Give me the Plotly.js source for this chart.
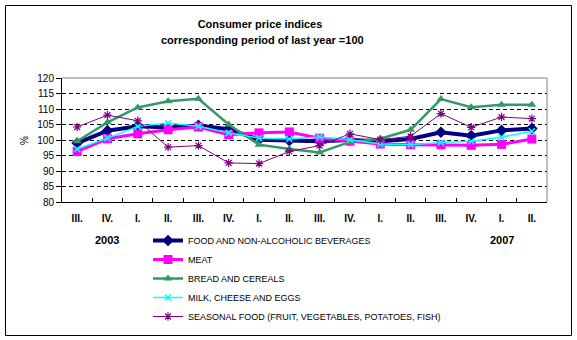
<!DOCTYPE html>
<html>
<head>
<meta charset="utf-8">
<script src="https://cdn.plot.ly/plotly-3.0.1.min.js"></script>
<style>
html,body{margin:0;padding:0;background:#fff;}
#chart{width:577px;height:340px;}
</style>
</head>
<body>
<div id="chart"></div>
<script>
const quarters = ['III.','IV.','I.','II.','III.','IV.','I.','II.','III.','IV.','I.','II.','III.','IV.','I.','II.'];
const yearLabels = ['2003','2007'];
const yearLabelIndex = [1, 14];

const seriesNames = [
  'FOOD AND NON-ALCOHOLIC BEVERAGES',
  'MEAT',
  'BREAD AND CEREALS',
  'MILK, CHEESE AND EGGS',
  'SEASONAL FOOD (FRUIT, VEGETABLES, POTATOES, FISH)'
];
const food     = [99.0, 103.0, 104.4, 104.0, 104.7, 103.5, 100.1, 99.8, 99.6, 100.0, 99.6, 100.3, 102.5, 101.4, 103.1, 103.7];
const meat     = [96.3, 100.4, 102.0, 103.3, 104.2, 101.7, 102.3, 102.6, 100.6, 99.6, 98.7, 98.5, 98.5, 98.3, 98.6, 100.3];
const bread    = [99.6, 105.7, 110.5, 112.5, 113.3, 105.0, 98.5, 97.1, 96.0, 99.4, 100.4, 103.3, 113.2, 110.6, 111.4, 111.4];
const milk     = [97.1, 100.6, 104.4, 105.5, 104.4, 102.3, 100.6, 100.3, 101.0, 100.1, 98.7, 98.5, 99.2, 99.6, 100.9, 102.8];
const seasonal = [104.2, 108.0, 106.2, 97.7, 98.2, 92.6, 92.4, 96.3, 98.2, 102.0, 100.1, 101.2, 108.5, 104.1, 107.4, 106.9];

const xs = quarters.map((_, i) => i);
const bounds = quarters.slice(1).map((_, i) => i + 0.5);

const styles = [
  {color:'#000080', lw:4,   sym:'diamond',        size:9, mlw:0},
  {color:'#FF00FF', lw:3,   sym:'square',         size:9, mlw:0},
  {color:'#339966', lw:2.5, sym:'triangle-up',    size:8, mlw:0},
  {color:'#00FFFF', lw:1.5, sym:'x-thin-open',    size:6, mlw:1.5},
  {color:'#800080', lw:1,   sym:'asterisk-open',  size:7, mlw:1.2}
];
const values = [food, meat, bread, milk, seasonal];

const traces = values.map((v, k) => ({
  type:'scatter', mode:'lines+markers', x: xs, y: v, name: seriesNames[k],
  line:{color:styles[k].color, width:styles[k].lw},
  marker:{symbol:styles[k].sym, size:styles[k].size, color:styles[k].color,
          line:{color:styles[k].color, width:styles[k].mlw}},
  hoverinfo:'skip'
}));

const F = 'Liberation Sans, Arial, sans-serif';
const L = 62, R = 547, T = 78, B = 202;
const px = v => (v - L) / (R - L);
const py = v => (B - v) / (B - T);

const layout = {
  width:577, height:340,
  margin:{l:L, r:577-R, t:T, b:340-B, pad:0, autoexpand:false},
  paper_bgcolor:'#fff', plot_bgcolor:'#fff',
  showlegend:true,
  title:{text:'<b>Consumer price indices</b>', font:{family:F, size:11, color:'#000'},
         xref:'container', x:260/577, xanchor:'center',
         yref:'container', y:1-24/340, yanchor:'middle', automargin:false},
  xaxis:{range:[-0.5, quarters.length-0.5], tickmode:'array', tickvals:xs, ticktext:quarters,
         ticks:'', showgrid:false, zeroline:false, showline:true, linecolor:'#000', linewidth:1,
         tickfont:{family:F, size:10, color:'#000', weight:'bold'}, ticklabelstandoff:7,
         minor:{tickmode:'array', tickvals:bounds, ticks:'inside', ticklen:4, tickcolor:'#000', showgrid:false},
         fixedrange:true, automargin:false},
  yaxis:{range:[80,120], tickmode:'linear', tick0:80, dtick:5, ticks:'outside', ticklen:5, tickcolor:'#000',
         showline:true, linecolor:'#000', linewidth:1, zeroline:false,
         showgrid:true, gridcolor:'#000', gridwidth:1, griddash:'4px,3px',
         tickfont:{family:F, size:10, color:'#000'}, fixedrange:true, automargin:false},
  legend:{xref:'container', yref:'container', x:148/577, y:1-226/340, xanchor:'left', yanchor:'top',
          font:{family:F, size:9, color:'#000'}, bgcolor:'rgba(0,0,0,0)', borderwidth:0,
          itemwidth:30, traceorder:'normal', itemclick:false, itemdoubleclick:false},
  annotations:[
    {text:'<b>corresponding period of last year =100</b>', xref:'paper', yref:'paper',
     x:px(262), y:py(40), xanchor:'center', yanchor:'middle', showarrow:false,
     font:{family:F, size:11, color:'#000'}},
    {text:'%', xref:'paper', yref:'paper', x:px(24), y:py(141), textangle:-90,
     xanchor:'center', yanchor:'middle', showarrow:false, font:{family:F, size:10, color:'#000'}}
  ].concat(yearLabels.map((t, i) => ({
     text:'<b>'+t+'</b>', xref:'x', yref:'paper', x:yearLabelIndex[i], y:py(240),
     xanchor:'center', yanchor:'middle', showarrow:false, font:{family:F, size:11, color:'#000'}}))),
  shapes:[
    {type:'line', xref:'paper', yref:'paper', x0:0, x1:1, y0:1, y1:1, line:{color:'#808080', width:1}},
    {type:'line', xref:'paper', yref:'paper', x0:1, x1:1, y0:0, y1:1, line:{color:'#808080', width:1}},
    {type:'rect', xref:'paper', yref:'paper', x0:px(5.5), x1:px(571.5), y0:py(335.5), y1:py(5.5),
     line:{color:'#000', width:1}, fillcolor:'rgba(0,0,0,0)', layer:'below'}
  ]
};

Plotly.newPlot('chart', traces, layout, {displayModeBar:false, staticPlot:true});
</script>
</body>
</html>
